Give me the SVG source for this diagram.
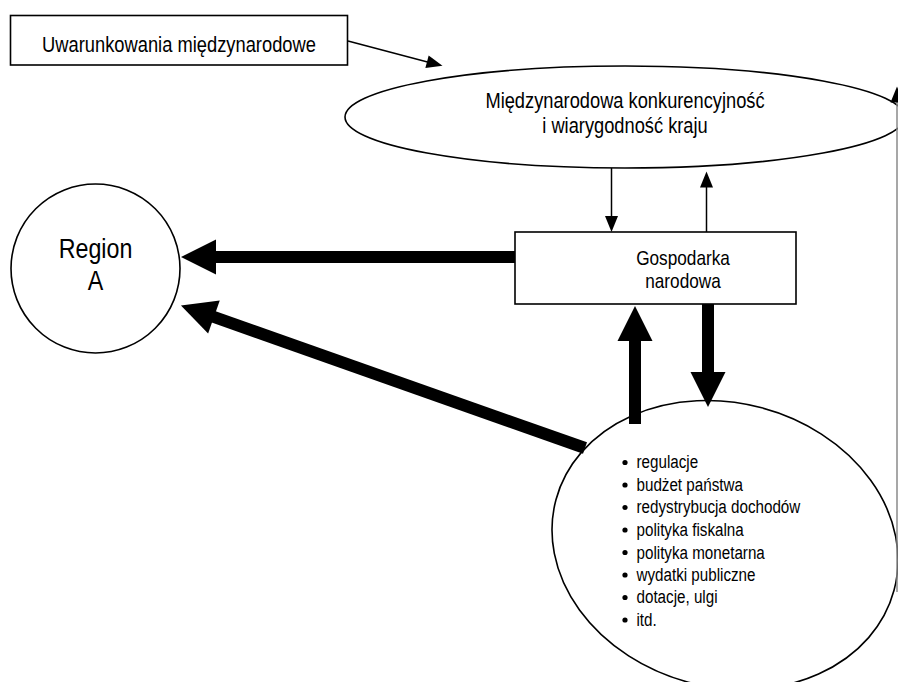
<svg xmlns="http://www.w3.org/2000/svg" width="898" height="682" viewBox="0 0 898 682">
<style>
.shape{fill:#fff;stroke:#000;stroke-width:1.6}
.t{font-family:"Liberation Sans",Arial,sans-serif;fill:#000;text-anchor:middle}
.tl{font-family:"Liberation Sans",Arial,sans-serif;fill:#000;font-size:19px}
.thin{stroke:#000;stroke-width:1.5;fill:none}
.thick{stroke:#000;stroke-width:12;fill:none}
.grey{stroke:#8a8a8a;stroke-width:1.5;fill:none}
</style>
<defs>
<marker id="ah" markerUnits="userSpaceOnUse" markerWidth="18" markerHeight="14" refX="0.5" refY="6.5" orient="auto" overflow="visible">
<path d="M0,0 L16,6.5 L0,13 z" fill="#000"/>
</marker>
<marker id="ahb" markerUnits="userSpaceOnUse" markerWidth="36" markerHeight="36" refX="1" refY="17.5" orient="auto" overflow="visible">
<path d="M0,0 L35,17.5 L0,35 z" fill="#000"/>
</marker>
</defs>
<rect width="898" height="682" fill="#fff"/>

<g id="uwarunkowania">
<rect class="shape" x="10.5" y="15.5" width="337" height="49.5"/>
<text class="t" font-size="22" transform="translate(179 52) scale(0.833 1)">Uwarunkowania międzynarodowe</text>
</g>

<g id="konkurencyjnosc">
<ellipse class="shape" cx="625" cy="117" rx="280" ry="51"/>
<text class="t" font-size="21.5" transform="translate(625 107.5) scale(0.85 1)">Międzynarodowa konkurencyjność</text>
<text class="t" font-size="21.5" transform="translate(625 133) scale(0.85 1)">i wiarygodność kraju</text>
</g>

<g id="region-a">
<circle class="shape" cx="95.5" cy="268.5" r="84.5"/>
<text class="t" font-size="28.5" transform="translate(95.5 258) scale(0.816 1)">Region</text>
<text class="t" font-size="28.5" transform="translate(95.5 290) scale(0.816 1)">A</text>
</g>

<g id="gospodarka">
<rect class="shape" x="515" y="232" width="281" height="72"/>
<text class="t" font-size="21" transform="translate(683 264.5) scale(0.82 1)">Gospodarka</text>
<text class="t" font-size="21" transform="translate(683 287.5) scale(0.82 1)">narodowa</text>
</g>

<g id="instrumenty">
<ellipse class="shape" cx="725" cy="545" rx="175" ry="142" transform="rotate(15 725 545)"/>
<g fill="#000">
<circle cx="625" cy="462.5" r="2.6"/>
<circle cx="625" cy="485" r="2.6"/>
<circle cx="625" cy="507.5" r="2.6"/>
<circle cx="625" cy="530" r="2.6"/>
<circle cx="625" cy="552.5" r="2.6"/>
<circle cx="625" cy="575" r="2.6"/>
<circle cx="625" cy="597.5" r="2.6"/>
<circle cx="625" cy="620" r="2.6"/>
</g>
<g transform="translate(636.5 0) scale(0.8 1)">
<text class="tl" x="0" y="468.3">regulacje</text>
<text class="tl" x="0" y="490.7">budżet państwa</text>
<text class="tl" x="0" y="513.3">redystrybucja dochodów</text>
<text class="tl" x="0" y="536">polityka fiskalna</text>
<text class="tl" x="0" y="558.7">polityka monetarna</text>
<text class="tl" x="0" y="581">wydatki publiczne</text>
<text class="tl" x="0" y="603.3">dotacje, ulgi</text>
<text class="tl" x="0" y="626">itd.</text>
</g>
</g>

<g id="connectors">
<path class="thin" d="M348,41 L427.5,61.9" marker-end="url(#ah)"/>
<path class="thin" d="M611.5,168 L611.5,216.5" marker-end="url(#ah)"/>
<path class="thin" d="M706.5,232 L706.5,187" marker-end="url(#ah)"/>
<path class="thick" d="M515,257 L215,257" marker-end="url(#ahb)"/>
<path class="thick" d="M585,448 L213,316.7" marker-end="url(#ahb)"/>
<path class="thick" d="M635,424 L635,340" marker-end="url(#ahb)"/>
<path class="thick" d="M708,304 L708,373" marker-end="url(#ahb)"/>
<path class="grey" d="M897,592 L897,102" marker-end="url(#ah)"/>
</g>
</svg>
